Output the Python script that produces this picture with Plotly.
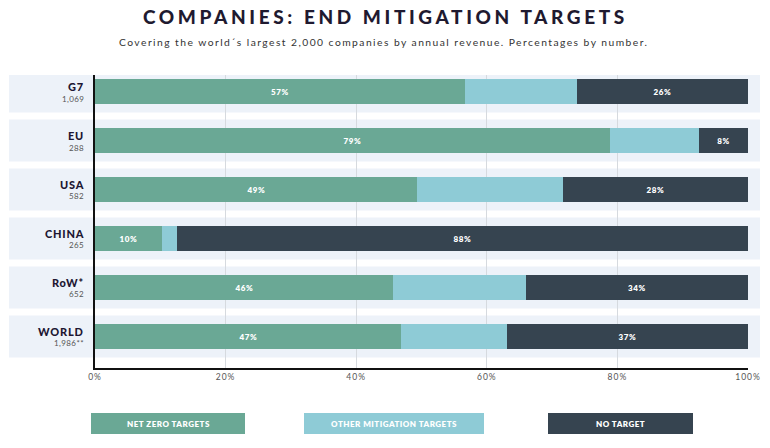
import plotly.graph_objects as go

regions = ["G7", "EU", "USA", "CHINA", "RoW*", "WORLD"]
counts = ["1,069", "288", "582", "265", "652", "1,986**"]
net_zero = [56.7, 78.9, 49.3, 10.3, 45.6, 46.9]
other = [17.1, 13.6, 22.4, 2.3, 20.4, 16.2]
no_target = [26.2, 7.5, 28.3, 87.4, 34.0, 36.9]
net_zero_labels = ["57%", "79%", "49%", "10%", "46%", "47%"]
no_target_labels = ["26%", "8%", "28%", "88%", "34%", "37%"]
series_names = ["NET ZERO TARGETS", "OTHER MITIGATION TARGETS", "NO TARGET"]
colors = ["#6aa895", "#8ecbd6", "#364450"]
tick_vals = [0, 20, 40, 60, 80, 100]
tick_text = ["0%", "20%", "40%", "60%", "80%", "100%"]

FONT = "Lato"
W, H = 770, 448
L, R, T, B = 95, 22, 75, 80
pw = W - L - R
ph = H - T - B


def px_x(px):
    return (px - L) / pw


def px_y(py):
    return (H - B - py) / ph


pos = list(range(len(regions)))

fig = go.Figure()
for name, vals, col, labels in zip(series_names, [net_zero, other, no_target], colors,
                                   [net_zero_labels, None, no_target_labels]):
    fig.add_trace(go.Bar(
        y=pos, x=vals, orientation="h", name=name,
        marker=dict(color=col, line=dict(width=0)),
        width=0.51,
        text=[f'<span style="letter-spacing:0.6px">{t}</span>' for t in labels] if labels else None,
        textposition="inside" if labels else "none",
        insidetextanchor="middle",
        textfont=dict(family=FONT, size=8, color="white", weight=800),
        constraintext="none",
        showlegend=False,
        hoverinfo="skip",
    ))

shapes = []
for p in pos:
    shapes.append(dict(type="rect", xref="paper", yref="y",
                       x0=px_x(9), x1=px_x(760),
                       y0=p - 0.43, y1=p + 0.43,
                       fillcolor="#edf2f9", line=dict(width=0), layer="below"))

annotations = []
for p, r, c in zip(pos, regions, counts):
    annotations.append(dict(xref="paper", yref="y", x=px_x(86), y=p,
                            yshift=5, xanchor="right", yanchor="middle",
                            text=f'<span style="letter-spacing:0.8px">{r}</span>', showarrow=False,
                            font=dict(family=FONT, size=11, color="#1d1733", weight=900)))
    annotations.append(dict(xref="paper", yref="y", x=px_x(86), y=p,
                            yshift=-7, xanchor="right", yanchor="middle",
                            text=f'<span style="letter-spacing:0.4px">{c}</span>', showarrow=False,
                            font=dict(family=FONT, size=8, color="#555555")))

annotations.append(dict(xref="paper", yref="paper", x=px_x(385), y=px_y(17),
                        xanchor="center", yanchor="middle", showarrow=False,
                        text='<span style="letter-spacing:3.6px">COMPANIES: END MITIGATION TARGETS</span>',
                        font=dict(family=FONT, size=19, color="#1f1a30", weight=900)))
annotations.append(dict(xref="paper", yref="paper", x=px_x(383), y=px_y(42),
                        xanchor="center", yanchor="middle", showarrow=False,
                        text='<span style="letter-spacing:1.45px">Covering the world\u00b4s largest 2,000 companies by annual revenue. Percentages by number.</span>',
                        font=dict(family=FONT, size=10.3, color="#333333")))

legend_boxes = [(91, 245), (304, 484), (548, 693)]
for (x0, x1), name, col in zip(legend_boxes, series_names, colors):
    shapes.append(dict(type="rect", xref="paper", yref="paper",
                       x0=px_x(x0), x1=px_x(x1),
                       y0=px_y(434), y1=px_y(413),
                       fillcolor=col, line=dict(width=0)))
    annotations.append(dict(xref="paper", yref="paper",
                            x=px_x((x0 + x1) / 2), y=px_y(423.5),
                            xanchor="center", yanchor="middle", showarrow=False,
                            text=f'<span style="letter-spacing:0.5px">{name}</span>',
                            font=dict(family=FONT, size=8, color="white", weight=800)))

fig.update_layout(
    width=W, height=H,
    margin=dict(l=L, r=R, t=T, b=B, autoexpand=False),
    barmode="stack",
    bargap=0,
    plot_bgcolor="rgba(0,0,0,0)",
    paper_bgcolor="white",
    shapes=shapes,
    annotations=annotations,
    xaxis=dict(range=[0, 100], tickmode="array", tickvals=tick_vals,
               ticktext=[f'<span style="letter-spacing:1px">{t}</span>' for t in tick_text],
               showgrid=True, gridcolor="#d6dadf", gridwidth=1,
               showline=True, linecolor="#111111", linewidth=1.5,
               zeroline=False, ticks="", automargin=False,
               tickfont=dict(family=FONT, size=8.5, color="#555555")),
    yaxis=dict(range=[5.644, -0.337], showticklabels=False, showgrid=False,
               zeroline=False, showline=True, linecolor="#111111", linewidth=1.5,
               ticks="", automargin=False),
)

fig.write_html("out.html", config={"displayModeBar": False},
               post_script="document.body.style.margin='0';")
